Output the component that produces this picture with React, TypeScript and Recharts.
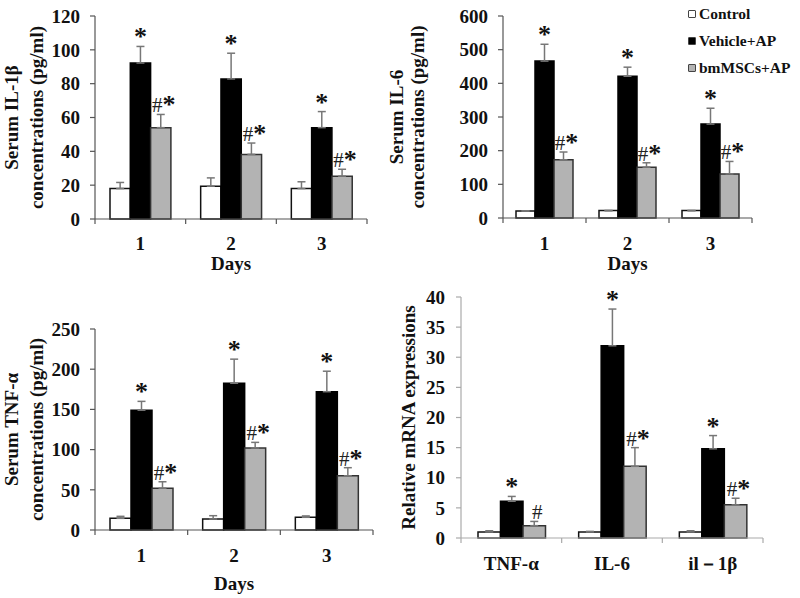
import React from 'react';
import { BarChart, Bar, XAxis, YAxis, ErrorBar, LabelList, Legend } from 'recharts';

const SERIF = "'Liberation Serif', 'Times New Roman', serif";

const seriesNames = ['Control', 'Vehicle+AP', 'bmMSCs+AP'];
const days = ['1', '2', '3'];
const genes = ['TNF-α', 'IL-6', 'il－1β'];

// Serum IL-1β (pg/ml)
const il1bControl = [18, 19.4, 18];
const il1bControlErr = [3.6, 4.9, 4.0];
const il1bVehicle = [92.2, 82.8, 54];
const il1bVehicleErr = [9.8, 15.2, 9.5];
const il1bBm = [54, 38.2, 25.3];
const il1bBmErr = [7.8, 6.7, 4.1];
const il1bTicks = [0, 20, 40, 60, 80, 100, 120];

// Serum IL-6 (pg/ml)
const il6Control = [21, 22, 22];
const il6ControlErr = [0, 0, 0];
const il6Vehicle = [466, 421, 279];
const il6VehicleErr = [50, 27, 47];
const il6Bm = [173, 151, 131];
const il6BmErr = [23, 13, 37];
const il6Ticks = [0, 100, 200, 300, 400, 500, 600];

// Serum TNF-α (pg/ml)
const tnfControl = [14.5, 13.7, 15.8];
const tnfControlErr = [2.5, 4.1, 1.7];
const tnfVehicle = [149, 182.5, 172];
const tnfVehicleErr = [11, 30, 25.5];
const tnfBm = [52, 102, 67.5];
const tnfBmErr = [8, 7, 10];
const tnfTicks = [0, 50, 100, 150, 200, 250];

// Relative mRNA expressions
const mrnaControl = [1, 1, 1];
const mrnaControlErr = [0.2, 0.1, 0.2];
const mrnaVehicle = [6.1, 31.9, 14.8];
const mrnaVehicleErr = [0.8, 6.1, 2.2];
const mrnaBm = [2.05, 11.9, 5.5];
const mrnaBmErr = [0.7, 3.1, 1.1];
const mrnaTicks = [0, 5, 10, 15, 20, 25, 30, 35, 40];

const vehicleMarks = ['*', '*', '*'];
const bmMarks = ['#*', '#*', '#*'];
const mrnaBmMarks = ['#', '#*', '#*'];

function buildRows(cats: string[], c: number[], ce: number[], v: number[], ve: number[], b: number[], be: number[], vm: string[], bm: string[]) {
  return cats.map((cat, i) => ({
    cat,
    control: c[i],
    controlErr: [0, ce[i]],
    vehicle: v[i],
    vehicleErr: [0, ve[i]],
    bm: b[i],
    bmErr: [0, be[i]],
    vMark: vm[i],
    bMark: bm[i],
  }));
}

const il1bRows = buildRows(days, il1bControl, il1bControlErr, il1bVehicle, il1bVehicleErr, il1bBm, il1bBmErr, vehicleMarks, bmMarks);
const il6Rows = buildRows(days, il6Control, il6ControlErr, il6Vehicle, il6VehicleErr, il6Bm, il6BmErr, vehicleMarks, bmMarks);
const tnfRows = buildRows(days, tnfControl, tnfControlErr, tnfVehicle, tnfVehicleErr, tnfBm, tnfBmErr, vehicleMarks, bmMarks);
const mrnaRows = buildRows(genes, mrnaControl, mrnaControlErr, mrnaVehicle, mrnaVehicleErr, mrnaBm, mrnaBmErr, vehicleMarks, mrnaBmMarks);

const makeMark = (rows: any[], valKey: string, errKey: string, dx: number) => (props: any) => {
  const vb = props.viewBox || props;
  const idx = props.index;
  const value = props.value;
  if (vb == null || idx == null || value == null) return null;
  const row = rows[idx];
  const v = row[valKey];
  const e = row[errKey][1];
  const pxPerUnit = vb.height / v;
  const top = vb.y - e * pxPerUnit;
  const cx = vb.x + vb.width / 2 + dx;
  const s = String(value);
  return (
    <text x={cx} y={top - 2} textAnchor="middle" fontFamily={SERIF} fill="#111">
      {s.includes('#') ? (
        <tspan fontWeight="normal" fontSize={21} fill="#222">
          #
        </tspan>
      ) : null}
      {s.includes('*') ? (
        <tspan fontWeight="bold" fontSize={26} dy={s.includes('#') ? 1 : 1}>
          *
        </tspan>
      ) : null}
    </text>
  );
};

const renderLegend = (props: any) => {
  const payload = props.payload || [];
  return (
    <div style={{ fontFamily: SERIF, fontWeight: 'bold', fontSize: 15.5, color: '#111' }}>
      {payload.map((entry: any) => (
        <div key={entry.value} style={{ height: 27, display: 'flex', alignItems: 'center' }}>
          <span
            style={{
              display: 'inline-block',
              width: 8,
              height: 8,
              boxSizing: 'border-box',
              background: entry.color,
              border: '1px solid #444',
              borderRadius: 1,
              marginRight: 3,
            }}
          />
          <span>{entry.value}</span>
        </div>
      ))}
    </div>
  );
};

function Panel(p: any) {
  const plotTop = p.margin.top;
  const plotBottom = p.height - p.margin.bottom - p.xHeight;
  const plotLeft = p.margin.left + p.yWidth;
  const plotW = p.width - plotLeft - p.margin.right;
  const n = p.rows.length;
  const band = plotW / n;

  const XTick = (tp: any) => {
    const { x, y, payload, index } = tp;
    return (
      <g>
        <line x1={x - band / 2} x2={x - band / 2} y1={y} y2={y + 5} stroke={p.axisColor} strokeWidth={1.2} />
        {index === n - 1 ? (
          <line x1={x + band / 2} x2={x + band / 2} y1={y} y2={y + 5} stroke={p.axisColor} strokeWidth={1.2} />
        ) : null}
        <text x={x} y={y + p.tickDy} textAnchor="middle" fontFamily={SERIF} fontWeight="bold" fontSize={19} fill="#111">
          {payload.value}
        </text>
      </g>
    );
  };

  const YLab = () => {
    const cy = (plotTop + plotBottom) / 2;
    return (
      <g>
        {p.yLabelLines.map((l: any) => (
          <text
            key={l.text}
            x={l.x}
            y={cy}
            transform={`rotate(-90 ${l.x} ${cy})`}
            textAnchor="middle"
            fontFamily={SERIF}
            fontWeight="bold"
            fontSize={19}
            fill="#111"
          >
            {l.text}
          </text>
        ))}
      </g>
    );
  };

  const XLab = () =>
    p.xTitle ? (
      <text
        x={plotLeft + plotW / 2}
        y={plotBottom + p.titleDy}
        textAnchor="middle"
        fontFamily={SERIF}
        fontWeight="bold"
        fontSize={19}
        fill="#111"
      >
        {p.xTitle}
      </text>
    ) : null;

  const ticks = p.ticks;
  return (
    <div style={{ position: 'absolute', left: p.left, top: p.top }}>
      <BarChart width={p.width} height={p.height} data={p.rows} margin={p.margin} barGap={0}>
        <XAxis
          dataKey="cat"
          height={p.xHeight}
          interval={0}
          tickLine={false}
          tickSize={0}
          tickMargin={0}
          axisLine={{ stroke: p.axisColor, strokeWidth: 1.2 }}
          tick={XTick}
          label={XLab}
        />
        <YAxis
          width={p.yWidth}
          domain={[0, ticks[ticks.length - 1]]}
          ticks={ticks}
          interval={0}
          tickSize={5}
          tickMargin={p.yTickMargin}
          axisLine={{ stroke: p.axisColor, strokeWidth: 1.2 }}
          tickLine={{ stroke: p.axisColor, strokeWidth: 1.2 }}
          tick={{ fontFamily: SERIF, fontWeight: 'bold', fontSize: 19, fill: '#111' }}
          label={YLab}
        />
        <Bar dataKey="control" name={seriesNames[0]} fill="#ffffff" stroke="#111" strokeWidth={1.5} barSize={p.barSize} isAnimationActive={false}>
          <ErrorBar dataKey="controlErr" direction="y" width={4} stroke="#777" strokeWidth={1.5} isAnimationActive={false} />
        </Bar>
        <Bar dataKey="vehicle" name={seriesNames[1]} fill="#000000" stroke="#000" strokeWidth={1.5} barSize={p.barSize} isAnimationActive={false}>
          <ErrorBar dataKey="vehicleErr" direction="y" width={4} stroke="#777" strokeWidth={1.5} isAnimationActive={false} />
          <LabelList dataKey="vMark" content={makeMark(p.rows, 'vehicle', 'vehicleErr', 0)} />
        </Bar>
        <Bar dataKey="bm" name={seriesNames[2]} fill="#b3b3b3" stroke="#333" strokeWidth={1.5} barSize={p.barSize} isAnimationActive={false}>
          <ErrorBar dataKey="bmErr" direction="y" width={4} stroke="#777" strokeWidth={1.5} isAnimationActive={false} />
          <LabelList dataKey="bMark" content={makeMark(p.rows, 'bm', 'bmErr', 3)} />
        </Bar>
        {p.legend ? (
          <Legend
            layout="horizontal"
            verticalAlign="middle"
            align="center"
            wrapperStyle={{ left: p.legendLeft, top: 0, width: 112 }}
            content={renderLegend}
          />
        ) : null}
      </BarChart>
    </div>
  );
}

export default function App() {
  return (
    <div style={{ position: 'absolute', left: 0, top: 0, width: 800, height: 598, background: '#fff', overflow: 'hidden' }}>
      <Panel
        left={0}
        top={0}
        width={400}
        height={300}
        margin={{ top: 16, right: 33, bottom: 21, left: 0 }}
        yWidth={95}
        xHeight={60}
        barSize={20.3}
        rows={il1bRows}
        ticks={il1bTicks}
        axisColor="#555"
        yTickMargin={10}
        tickDy={31}
        titleDy={50.5}
        xTitle="Days"
        yLabelLines={[
          { text: 'Serum IL-1β', x: 18 },
          { text: 'concentrations (pg/ml)', x: 42.5 },
        ]}
      />
      <Panel
        left={380}
        top={0}
        width={420}
        height={300}
        margin={{ top: 16, right: 48, bottom: 22, left: 0 }}
        yWidth={123}
        xHeight={60}
        barSize={19}
        rows={il6Rows}
        ticks={il6Ticks}
        axisColor="#555"
        yTickMargin={10}
        tickDy={32}
        titleDy={52}
        xTitle="Days"
        legend
        legendLeft={308}
        yLabelLines={[
          { text: 'Serum IL-6', x: 23 },
          { text: 'concentrations (pg/ml)', x: 44 },
        ]}
      />
      <Panel
        left={0}
        top={300}
        width={400}
        height={298}
        margin={{ top: 29, right: 27, bottom: 8, left: 0 }}
        yWidth={95}
        xHeight={60}
        barSize={21}
        rows={tnfRows}
        ticks={tnfTicks}
        axisColor="#555"
        yTickMargin={10}
        tickDy={32}
        titleDy={60}
        xTitle="Days"
        yLabelLines={[
          { text: 'Serum TNF-α', x: 18 },
          { text: 'concentrations (pg/ml)', x: 42.5 },
        ]}
      />
      <Panel
        left={385}
        top={270}
        width={415}
        height={328}
        margin={{ top: 27, right: 37, bottom: 10, left: 0 }}
        yWidth={76}
        xHeight={50}
        barSize={22.5}
        rows={mrnaRows}
        ticks={mrnaTicks}
        axisColor="#aaa"
        yTickMargin={11}
        tickDy={32}
        titleDy={0}
        xTitle=""
        yLabelLines={[{ text: 'Relative mRNA expressions', x: 30 }]}
      />
    </div>
  );
}
